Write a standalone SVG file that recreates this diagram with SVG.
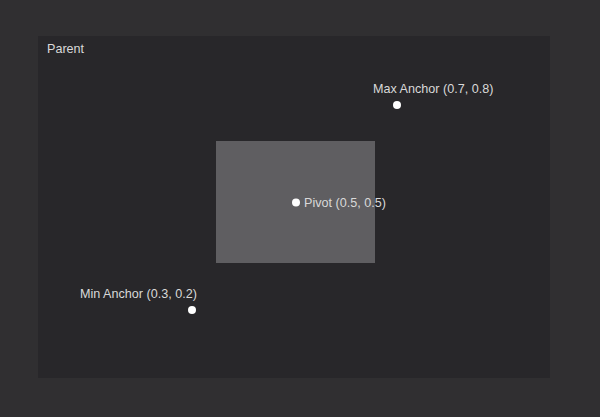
<svg xmlns="http://www.w3.org/2000/svg" width="600" height="417" viewBox="0 0 600 417">
<style>
.lbl{font-family:"Liberation Sans",Arial,sans-serif;font-size:12.6px;fill:#d9d9d9}
.dot{fill:#ffffff}
</style>
<rect x="0" y="0" width="600" height="417" fill="#302f31"/>
<g id="parent">
<rect x="38" y="36" width="512" height="342" fill="#28272a"/>
<text class="lbl" x="47" y="53">Parent</text>
</g>
<g id="child">
<rect x="216" y="141" width="159" height="122" fill="#5f5e61"/>
</g>
<g id="pivot">
<circle class="dot" cx="296" cy="202.5" r="4"/>
<text class="lbl" x="304" y="207">Pivot (0.5, 0.5)</text>
</g>
<g id="max-anchor">
<circle class="dot" cx="397" cy="105" r="4"/>
<text class="lbl" x="373" y="93">Max Anchor (0.7, 0.8)</text>
</g>
<g id="min-anchor">
<circle class="dot" cx="192" cy="310" r="4"/>
<text class="lbl" x="80" y="298">Min Anchor (0.3, 0.2)</text>
</g>
<g id="connectors"></g>
</svg>
